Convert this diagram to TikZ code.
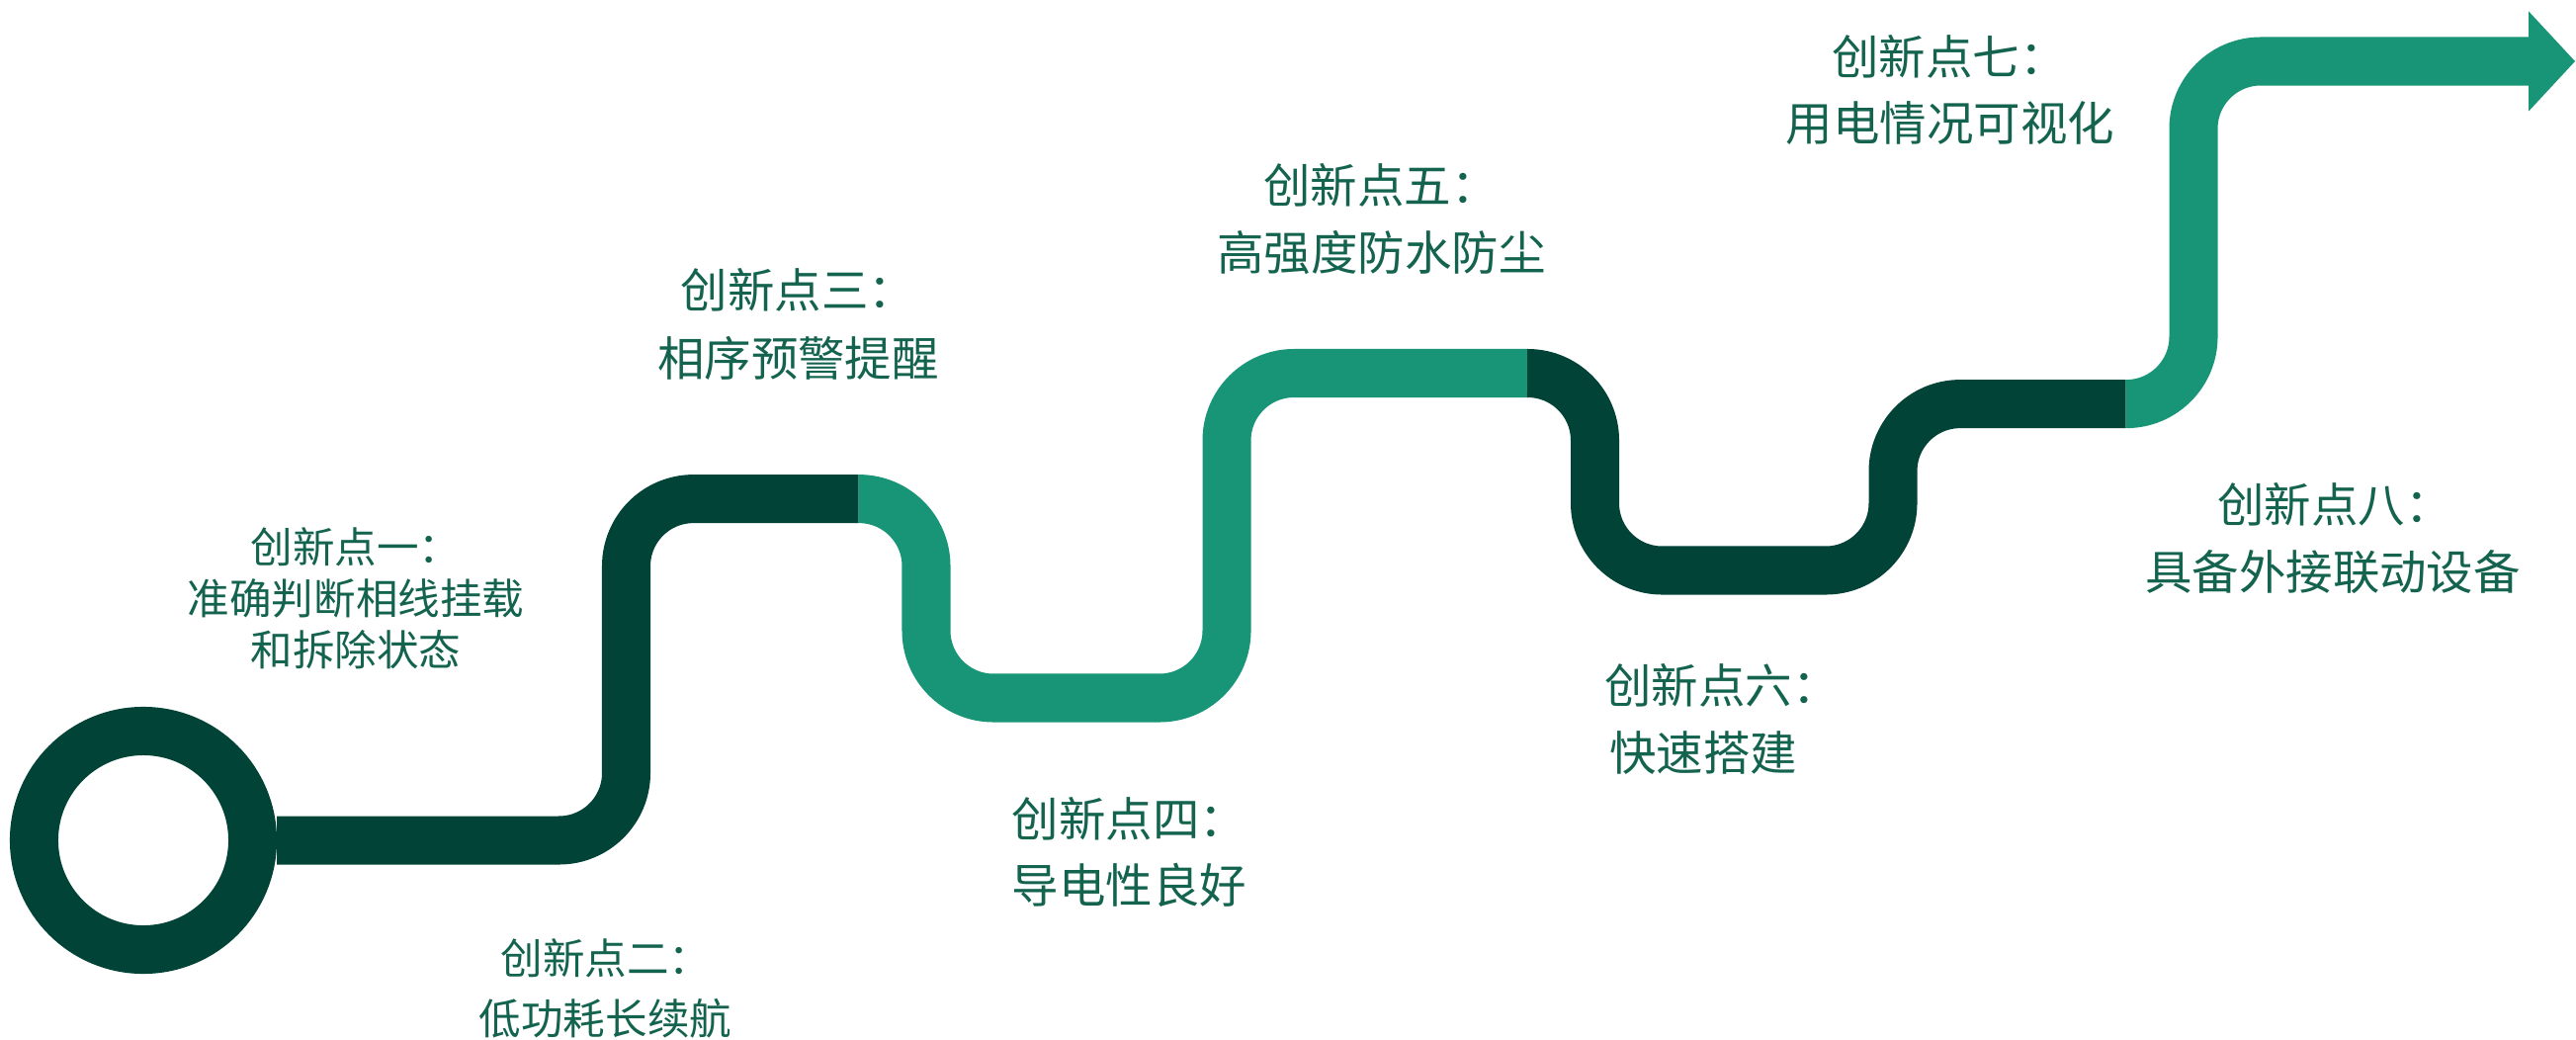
\documentclass[tikz,border=0pt]{standalone}
\usepackage{fontspec}
\newfontfamily\cjk{Noto Sans CJK SC}
\definecolor{darkgreen}{HTML}{024337}
\definecolor{lightgreen}{HTML}{189576}
\definecolor{textgreen}{HTML}{13634E}
\tikzset{
  band/.style={line width=0.49cm, rounded corners=0.68cm},
  bigtext/.style={inner sep=0, text=textgreen, font=\cjk\fontsize{13.5pt}{16pt}\selectfont},
  smalltext/.style={inner sep=0, text=textgreen, font=\cjk\fontsize{12.1pt}{14pt}\selectfont}
}

\begin{document}
\begin{tikzpicture}[x=0.01cm,y=-0.01cm]
  \useasboundingbox (0,0) rectangle (2606,1051);

  % start ring and colour change points
  \node [circle,draw=darkgreen,line width=0.49cm,minimum size=2.21cm,inner sep=0] (start) at (145,850) {};
  \coordinate (j1) at (868.6,504.6);
  \coordinate (j2) at (1545,377.5);
  \coordinate (j3) at (2150.6,408.6);
  \coordinate (head) at (2558,62);
  \coordinate (tip) at (2605,62);

  \draw [band,darkgreen] (start.east) -- (633.5,850) -- (633.5,504.6) -- (j1);
  \draw [band,lightgreen] (j1) -- (937,504.6) -- (937,706) -- (1241,706) -- (1241,377.5) -- (j2);
  \draw [band,darkgreen] (j2) -- (1613.5,377.5) -- (1613.5,577) -- (1915,577) -- (1915,408.6) -- (j3);
  \draw [band,lightgreen] (j3) -- (2219,408.6) -- (2219,62) -- (head);
  \fill [lightgreen] ([yshift=0.506cm]head) -- (tip) -- ([yshift=-0.506cm]head) -- cycle;

  % labels
  \node [smalltext] (p1) at (360,553.5) {创新点一：};
  \node [smalltext] (p1d) at (360,605) {准确判断相线挂载};
  \node [smalltext] (p1e) at (360,657) {和拆除状态};
  \node [smalltext] (p2) at (613,969) {创新点二：};
  \node [smalltext] (p2d) at (612.5,1030) {低功耗长续航};
  \node [bigtext] (p3) at (807.5,293) {创新点三：};
  \node [bigtext] (p3d) at (807.5,362) {相序预警提醒};
  \node [bigtext] (p4) at (1142.5,828) {创新点四：};
  \node [bigtext] (p4d) at (1142.5,895) {导电性良好};
  \node [bigtext] (p5) at (1397,187) {创新点五：};
  \node [bigtext] (p5d) at (1397.5,256) {高强度防水防尘};
  \node [bigtext] (p6) at (1742,693) {创新点六：};
  \node [bigtext] (p6d) at (1723,762) {快速搭建};
  \node [bigtext] (p7) at (1972,57) {创新点七：};
  \node [bigtext] (p7d) at (1973,125) {用电情况可视化};
  \node [bigtext] (p8) at (2362,510) {创新点八：};
  \node [bigtext] (p8d) at (2360,579) {具备外接联动设备};
\end{tikzpicture}
\end{document}
